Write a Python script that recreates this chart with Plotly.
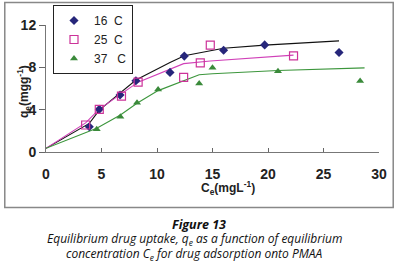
import plotly.graph_objects as go

# experimental data
ce_16 = [3.9, 4.8, 6.67, 8.1, 11.17, 12.46, 16.0, 19.7, 26.4]
qe_16 = [2.39, 4.03, 5.38, 6.73, 7.52, 9.06, 9.62, 10.12, 9.4]
ce_25 = [3.57, 4.8, 6.8, 8.3, 12.4, 13.9, 14.8, 22.3]
qe_25 = [2.55, 4.03, 5.28, 6.6, 7.05, 8.43, 10.1, 9.08]
ce_37 = [4.57, 6.7, 8.2, 10.1, 13.8, 15.0, 20.9, 28.3]
qe_37 = [2.14, 3.33, 4.65, 5.9, 6.48, 7.95, 7.64, 6.7]

# fitted curves
fit_x_16 = [0, 3.9, 4.8, 6.67, 8.1, 11.17, 12.46, 16.0, 19.7, 26.4]
fit_y_16 = [0.35, 2.7, 3.95, 5.55, 6.8, 8.45, 9.1, 9.8, 10.1, 10.5]
fit_x_25 = [0, 3.57, 4.8, 6.8, 8.3, 12.4, 13.9, 14.8, 22.3]
fit_y_25 = [0.35, 2.75, 4.05, 5.5, 6.6, 8.35, 8.5, 8.6, 9.15]
fit_x_37 = [0, 4.57, 6.7, 8.2, 10.1, 13.8, 15.0, 20.9, 28.7]
fit_y_37 = [0.35, 2.25, 3.5, 4.6, 5.8, 7.3, 7.4, 7.7, 7.95]

labels = ["16  C", "25  C", "37   C"]
x_ticks = [0, 5, 10, 15, 20, 25, 30]
y_ticks = [0, 4, 8, 12]

c16, c25, c37 = "#26267a", "#cc3399", "#3a8a3a"
l16, l25, l37 = "#111111", "#d040b8", "#3c963c"

fig = go.Figure()
fig.add_trace(go.Scatter(x=fit_x_16, y=fit_y_16, mode="lines", line=dict(color=l16, width=1.1), showlegend=False, hoverinfo="skip"))
fig.add_trace(go.Scatter(x=fit_x_25, y=fit_y_25, mode="lines", line=dict(color=l25, width=1.1), showlegend=False, hoverinfo="skip"))
fig.add_trace(go.Scatter(x=fit_x_37, y=fit_y_37, mode="lines", line=dict(color=l37, width=1.1), showlegend=False, hoverinfo="skip"))
fig.add_trace(go.Scatter(x=ce_16, y=qe_16, mode="markers", name=labels[0],
                         marker=dict(symbol="diamond", size=7, color=c16)))
fig.add_trace(go.Scatter(x=ce_25, y=qe_25, mode="markers", name=labels[1],
                         marker=dict(symbol="square-open", size=8, color=c25, line=dict(width=1.2))))
fig.add_trace(go.Scatter(x=ce_37, y=qe_37, mode="markers", name=labels[2],
                         marker=dict(symbol="triangle-up", size=7, color=c37)))

W, H = 398, 275
FL, FR, FT, FB = 4, 394, 2, 208      # outer frame in pixels
PL, PR, PT, PB = 46, 379, 25, 152    # axes area in pixels

def px(x):
    return (x - FL) / (FR - FL)

def py(y):
    return (FB - y) / (FB - FT)

bold = dict(size=14, family="Liberation Sans, Arial", color="#222", weight="bold")

fig.update_layout(
    width=W, height=H,
    margin=dict(l=FL, r=W - FR, t=FT, b=H - FB, pad=0, autoexpand=False),
    paper_bgcolor="white", plot_bgcolor="rgba(0,0,0,0)",
    font=dict(family="Liberation Sans, Arial, sans-serif", color="#222222"),
    showlegend=True,
    legend=dict(x=53 / W, y=1 - 5 / H, xref="container", yref="container",
                xanchor="left", yanchor="top",
                bgcolor="white", bordercolor="#222222", borderwidth=1,
                font=dict(size=12, family="Liberation Sans, Arial", color="#222222"),
                itemwidth=30, tracegroupgap=2),
    xaxis=dict(domain=[px(PL), px(PR)], range=[0, 30], tickvals=x_ticks, ticks="inside", ticklen=4,
               tickcolor="#666", showline=True, linecolor="#777", linewidth=1, showgrid=False,
               zeroline=False, tickfont=bold, ticklabelstandoff=9, automargin=False),
    yaxis=dict(domain=[py(PB), py(PT)], range=[0, 12], tickvals=y_ticks, ticks="outside", ticklen=6,
               tickcolor="#666", showline=True, linecolor="#777", linewidth=1, showgrid=False,
               zeroline=False, tickfont=bold, automargin=False),
    shapes=[dict(type="rect", xref="paper", yref="paper", x0=0.002, x1=0.998, y0=0.003, y1=0.997,
                 line=dict(color="#888888", width=1.5), fillcolor="rgba(0,0,0,0)", layer="above")],
    annotations=[
        dict(text="<b>C<sub>e</sub>(mgL<sup>-1</sup>)</b>", x=px(228), y=py(199), xref="paper", yref="paper",
             showarrow=False, font=dict(size=12, family="Liberation Sans, Arial", color="#222")),
        dict(text="<b>q<sub>e</sub>(mgg<sup>-1</sup>)</b>", x=px(13), y=py(92), xref="paper", yref="paper",
             showarrow=False, textangle=-90, font=dict(size=12, family="Liberation Sans, Arial", color="#222")),
        dict(text="<b><i>Figure 13</i></b>", x=px(199), y=py(235), xref="paper", yref="paper",
             showarrow=False, font=dict(size=12.5, family="Open Sans", color="#111")),
        dict(text="<i>Equilibrium drug uptake, q<sub>e</sub> as a function of equilibrium</i>", x=px(194), y=py(250),
             xref="paper", yref="paper", showarrow=False, font=dict(size=12, family="Open Sans", color="#111")),
        dict(text="<i>concentration C<sub>e</sub> for drug adsorption onto PMAA</i>", x=px(194), y=py(265),
             xref="paper", yref="paper", showarrow=False, font=dict(size=12, family="Open Sans", color="#111")),
    ],
)
fig.update_traces(cliponaxis=False)
fig.write_html("out.html", config={"displayModeBar": False},
               post_script="document.body.style.margin='0';document.body.style.padding='0';")
